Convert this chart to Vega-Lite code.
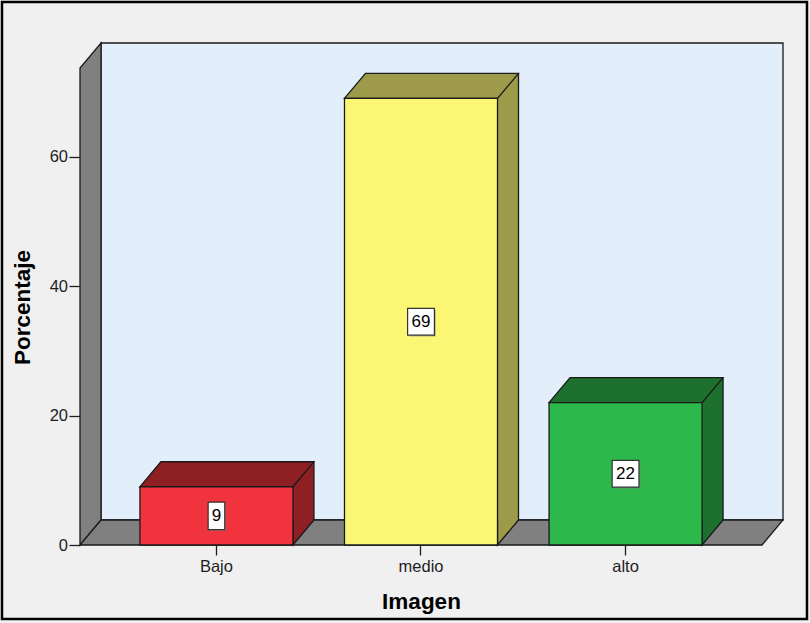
{
  "$schema": "https://vega.github.io/schema/vega-lite/v6.json",
  "width": 682,
  "height": 477,
  "autosize": {"type": "none"},
  "padding": {"left": 80, "top": 68, "right": 48, "bottom": 78},
  "background": "#F0F0F0",
  "config": {
    "view": {"stroke": null},
    "font": "Liberation Sans",
    "axis": {
      "domain": false,
      "grid": false,
      "labelColor": "#1e1e1e",
      "tickColor": "#1e1e1e",
      "tickWidth": 1.3,
      "labelFont": "Liberation Sans",
      "labelFontSize": 16.5,
      "titleFont": "Liberation Sans",
      "titleFontSize": 22.5,
      "titleFontWeight": "bold",
      "titleColor": "#000000"
    },
    "axisX": {"tickSize": 10, "labelPadding": 3, "labelAngle": 0, "titleY": 63, "titleBaseline": "alphabetic"},
    "axisY": {"tickSize": 11, "labelPadding": 1.5, "titleX": -51, "titleY": 239, "titleAngle": -90, "titleBaseline": "alphabetic", "titleAlign": "center"}
  },
  "data": {
    "values": [
      {"Imagen": "Bajo", "Porcentaje": 9},
      {"Imagen": "medio", "Porcentaje": 69},
      {"Imagen": "alto", "Porcentaje": 22}
    ]
  },
  "layer": [
    {
      "layer": [
        {
          "data": {"values": [{}]},
          "mark": {"type": "rect", "filled": false, "stroke": "#000000", "strokeWidth": 2.5},
          "encoding": {
            "x": {"value": -78},
            "x2": {"value": 727},
            "y": {"value": -66},
            "y2": {"value": 551}
          }
        },
        {
          "data": {"values": [{}]},
          "mark": {"type": "rect", "fill": "#E3EEFB", "stroke": "#1a1a1a", "strokeWidth": 1.3, "xOffset": 21, "x2Offset": 21, "yOffset": -25, "y2Offset": -25},
          "encoding": {
            "x": {"value": 0},
            "x2": {"value": "width"},
            "y": {"datum": 73.7},
            "y2": {"datum": 0}
          }
        },
        {
          "data": {"values": [{}]},
          "mark": {"type": "point", "shape": "M 0 0 L 0 -4.77 L 0.21 -5.02 L 0.21 -0.25 Z", "size": 40000, "filled": true, "fill": "#808080", "stroke": "#1a1a1a", "strokeWidth": 1.3, "opacity": 1},
          "encoding": {"x": {"value": 0}, "y": {"datum": 0}}
        },
        {
          "data": {"values": [{}]},
          "mark": {"type": "point", "shape": "M 0 0 L 6.82 0 L 7.03 -0.25 L 0.21 -0.25 Z", "size": 40000, "filled": true, "fill": "#808080", "stroke": "#1a1a1a", "strokeWidth": 1.3, "opacity": 1},
          "encoding": {"x": {"value": 0}, "y": {"datum": 0}}
        },
        {
          "mark": {"type": "bar", "width": 21, "xOffset": 87, "yOffset": -25, "y2Offset": -25},
          "encoding": {
            "x": {"field": "Imagen", "type": "nominal", "sort": null},
            "y": {"field": "Porcentaje", "type": "quantitative"},
            "y2": {"datum": 0},
            "fill": {"field": "Imagen", "type": "nominal", "scale": {"domain": ["Bajo", "medio", "alto"], "range": ["#8E1F23", "#9D9A49", "#1E702F"]}, "legend": null}
          }
        },
        {
          "mark": {"type": "point", "shape": "M 0.765 -0.25 L 0.765 0 L 0.975 -0.25", "size": 40000, "filled": true, "stroke": "#1a1a1a", "strokeWidth": 1.3, "opacity": 1},
          "encoding": {
            "x": {"field": "Imagen", "type": "nominal", "sort": null},
            "y": {"datum": 0},
            "fill": {"field": "Imagen", "type": "nominal", "legend": null}
          }
        },
        {
          "mark": {"type": "rule", "stroke": "#1a1a1a", "strokeWidth": 1.3, "xOffset": 97.5, "yOffset": -25, "y2Offset": -25},
          "encoding": {
            "x": {"field": "Imagen", "type": "nominal", "sort": null},
            "y": {"field": "Porcentaje", "type": "quantitative"},
            "y2": {"datum": 0}
          }
        },
        {
          "mark": {"type": "point", "shape": "M -0.765 0 L 0.765 0 L 0.975 -0.25 L -0.555 -0.25 Z", "size": 40000, "filled": true, "stroke": "#1a1a1a", "strokeWidth": 1.3, "opacity": 1},
          "encoding": {
            "x": {"field": "Imagen", "type": "nominal", "sort": null},
            "y": {"field": "Porcentaje", "type": "quantitative"},
            "fill": {"field": "Imagen", "type": "nominal", "legend": null}
          }
        },
        {
          "mark": {"type": "bar", "stroke": "#1a1a1a", "strokeWidth": 1.3},
          "encoding": {
            "x": {"field": "Imagen", "type": "nominal", "sort": null, "scale": {"domain": ["Bajo", "medio", "alto"], "paddingInner": 0.252, "paddingOuter": 0.293}},
            "y": {"field": "Porcentaje", "type": "quantitative", "scale": {"domain": [0, 73.7], "nice": false}, "axis": {"values": [0, 20, 40, 60]}},
            "y2": {"datum": 0},
            "color": {"field": "Imagen", "type": "nominal", "scale": {"domain": ["Bajo", "medio", "alto"], "range": ["#F0333D", "#FBF775", "#2DB84B"]}, "legend": null}
          }
        }
      ]
    },
    {
      "layer": [
        {
          "mark": {"type": "point", "size": 40000, "filled": true, "fill": "#8a8a8a", "opacity": 0.5, "xOffset": 1.5, "yOffset": 1.5},
          "encoding": {
            "x": {"field": "Imagen", "type": "nominal", "sort": null},
            "y": {"field": "Porcentaje", "type": "quantitative", "scale": {"domain": [0, 147.4], "nice": false}, "axis": null},
            "shape": {
              "condition": {"test": "datum.Porcentaje < 10", "value": "M -0.083 -0.137 L 0.083 -0.137 L 0.083 0.137 L -0.083 0.137 Z"},
              "value": "M -0.134 -0.134 L 0.134 -0.134 L 0.134 0.134 L -0.134 0.134 Z"
            }
          }
        },
        {
          "mark": {"type": "point", "size": 40000, "filled": true, "fill": "#FFFFFF", "stroke": "#333333", "strokeWidth": 1.2, "opacity": 1},
          "encoding": {
            "x": {"field": "Imagen", "type": "nominal", "sort": null},
            "y": {"field": "Porcentaje", "type": "quantitative", "axis": null},
            "shape": {
              "condition": {"test": "datum.Porcentaje < 10", "value": "M -0.083 -0.137 L 0.083 -0.137 L 0.083 0.137 L -0.083 0.137 Z"},
              "value": "M -0.134 -0.134 L 0.134 -0.134 L 0.134 0.134 L -0.134 0.134 Z"
            }
          }
        },
        {
          "mark": {"type": "text", "font": "Liberation Sans", "fontSize": 17, "color": "#000000", "align": "center", "baseline": "middle"},
          "encoding": {
            "x": {"field": "Imagen", "type": "nominal", "sort": null},
            "y": {"field": "Porcentaje", "type": "quantitative", "axis": null},
            "text": {"field": "Porcentaje", "type": "quantitative"}
          }
        }
      ]
    }
  ],
  "resolve": {"scale": {"y": "independent"}}
}
